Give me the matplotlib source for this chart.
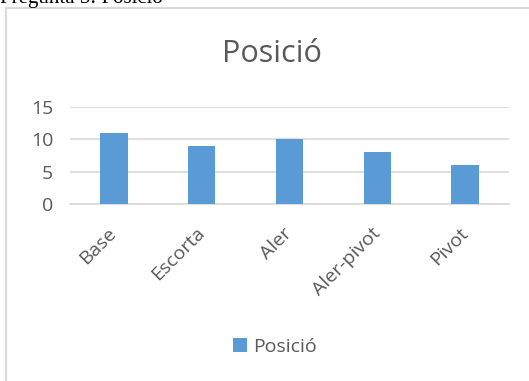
import numpy as np
import matplotlib.pyplot as plt
from matplotlib.lines import Line2D

categories = ['Base', 'Escorta', 'Aler', 'Aler-pivot', 'Pivot']
values = [11, 9, 10, 8, 6]
yticks = [0, 5, 10, 15]
title = 'Posició'
heading = 'Pregunta 3: Posició'

W, H = 529, 381
fig = plt.figure(figsize=(W/100, H/100), dpi=100)
fig.patch.set_facecolor('white')

grey_txt = '#595959'
grid_col = '#d9d9d9'
bar_col = '#5b9bd5'
font = 'Open Sans'

# chart frame (cropped at the right and bottom)
fig.add_artist(Line2D([6/W, 6/W], [0, 1 - 8/H], transform=fig.transFigure, color=grid_col, lw=1.5))
fig.add_artist(Line2D([6/W, 1], [1 - 8/H, 1 - 8/H], transform=fig.transFigure, color=grid_col, lw=1.5))

# document heading above the chart, mostly cut off like in the page
fig.text(0.5/W, 1 - 2.5/H, heading, family='Liberation Serif', fontsize=15, va='baseline', ha='left', color='black')

ax = fig.add_axes([70/W, 1 - 204/H, (509 - 70)/W, (204 - 107)/H])
x = np.arange(len(categories))
ax.bar(x, values, width=0.31, color=bar_col, zorder=3, label=title)
ax.set_xlim(-0.5, len(categories) - 0.5)
ax.set_ylim(0, 15)
ax.set_yticks(yticks)
ax.yaxis.grid(True, color=grid_col, lw=1.2, zorder=0)
for s in ['top', 'right', 'left']:
    ax.spines[s].set_visible(False)
ax.spines['bottom'].set_color(grid_col)
ax.spines['bottom'].set_linewidth(1.2)
ax.tick_params(axis='both', length=0)
ax.tick_params(axis='y', pad=12, labelsize=14, labelcolor=grey_txt)
ax.set_xticks(x)
ax.set_xticklabels(categories, rotation=45, ha='right', va='center', rotation_mode='anchor',
                   fontsize=14, color=grey_txt, family=font)
ax.tick_params(axis='x', pad=19)
for lab in ax.get_yticklabels():
    lab.set_family(font)

fig.text(272/W, 1 - 54/H, title, family=font, fontsize=22, color=grey_txt, ha='center', va='center')

leg = fig.legend(loc='center', bbox_to_anchor=(275/W, 1 - 347/H), frameon=False,
                 handlelength=0.7, handleheight=0.7, handletextpad=0.3,
                 prop={'family': font, 'size': 14})
for t in leg.get_texts():
    t.set_color(grey_txt)

fig.savefig('out.png', dpi=100)
